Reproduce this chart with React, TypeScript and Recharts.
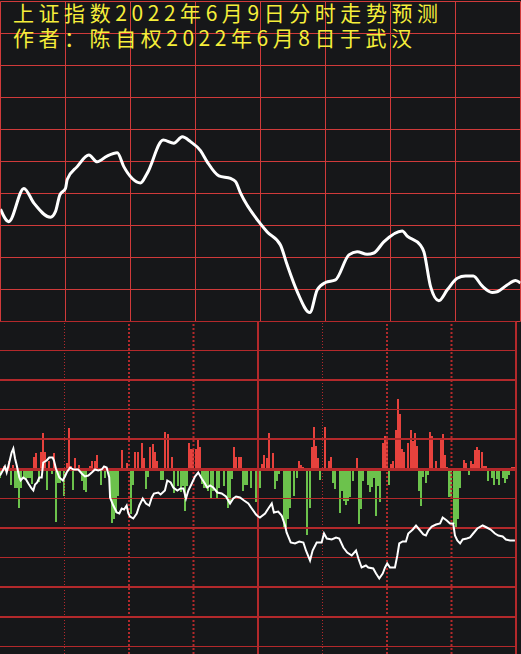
import React from 'react';
import { LineChart, Line, XAxis, YAxis, ReferenceLine, ComposedChart, Bar } from 'recharts';

const titleLine1 = '上证指数2022年6月9日分时走势预测';
const titleLine2 = '作者：陈自权2022年6月8日于武汉';

// top panel: predicted index curve (minute, index value)
const topMinutes = [0, 3.8, 10.8, 15.4, 23.1, 25.4, 27.4, 30, 30.8, 35.4, 40.8, 44.6, 49.2, 53.9, 56.9, 60.8, 64.6, 67.7, 75.1, 80, 83.9, 87.7, 92.3, 95.4, 100.8, 106.2, 108.5, 110.8, 120, 123.1, 129.2, 132.3, 136.9, 142.8, 146.2, 150, 154.6, 160.8, 164.6, 169.2, 172.3, 176.9, 185.4, 187.7, 193.8, 195.4, 198.5, 202.3, 206.2, 210.8, 214.6, 218.2, 222.3, 226.9, 229.2, 233.8, 237.7, 240];
const topValues = [3235.1, 3231.2, 3241.6, 3237.0, 3232.6, 3234.4, 3239.6, 3241.6, 3244.4, 3248.4, 3252.0, 3249.9, 3251.7, 3252.7, 3248.4, 3244.7, 3243.3, 3246.3, 3256.7, 3255.7, 3257.7, 3256.2, 3253.4, 3249.9, 3245.5, 3244.7, 3243.7, 3240.1, 3230.5, 3228.0, 3223.9, 3217.7, 3209.4, 3202.8, 3209.9, 3212.2, 3213.0, 3220.8, 3221.8, 3221.0, 3221.4, 3224.9, 3228.3, 3226.7, 3223.9, 3221.8, 3210.9, 3206.5, 3209.9, 3213.5, 3214.2, 3214.2, 3211.1, 3209.1, 3209.3, 3211.4, 3212.8, 3212.0];
const topGridLevels = [3200, 3210, 3220, 3230, 3240, 3250, 3260, 3270, 3280, 3290, 3300];
const timeTicks = [0, 30, 60, 90, 120, 150, 180, 210, 240];

// bottom panel: minute bars (minute, value)
const barMinutes = [0, 2, 4, 5, 6, 7, 8, 9, 10, 11, 12, 13, 14, 15, 16, 17, 18, 19, 20, 21, 22, 23, 24, 25, 26, 27, 28, 30, 31, 32, 33, 34, 35, 37, 38, 39, 40, 42, 43, 44, 45, 47, 49, 51, 52, 53, 54, 55, 57, 59, 61, 62, 63, 64, 66, 67, 68, 69, 70, 71, 72, 73, 75, 76, 77, 78, 80, 81, 83, 84, 85, 86, 87, 88, 89, 90, 91, 92, 93, 94, 95, 96, 97, 98, 99, 101, 102, 104, 106, 107, 108, 109, 110, 111, 112, 113, 114, 115, 117, 119, 120, 121, 122, 123, 124, 125, 127, 128, 129, 130, 132, 133, 134, 135, 137, 138, 139, 140, 141, 143, 144, 145, 146, 147, 148, 149, 151, 153, 154, 155, 156, 158, 159, 160, 161, 162, 163, 164, 166, 167, 168, 169, 171, 172, 173, 174, 175, 176, 177, 178, 179, 180, 181, 182, 183, 184, 185, 186, 187, 188, 190, 191, 192, 193, 194, 195, 196, 197, 198, 199, 200, 201, 203, 205, 206, 207, 208, 209, 210, 211, 212, 213, 214, 216, 217, 218, 219, 220, 221, 222, 223, 224, 225, 226, 227, 229, 230, 231, 232, 234, 235, 236, 237, 238, 239];
const barValues = [-8, 4, 9, -15, 5, -18, -18, -38, -18, -9, -9, -8, -8, -14, 13, 17, -12, 18, 37, 18, -20, 9, -4, 17, -52, -13, -13, -26, 7, 42, 4, -20, 12, 5, -11, -20, -22, 4, 9, 9, 15, -15, -8, -28, -53, -49, -43, -26, 20, 7, -44, -15, 18, 18, 27, 12, -19, -7, 23, 26, 18, 9, -10, -10, 38, 36, 13, -24, -16, -22, -16, -41, -16, 27, 21, 21, 21, 32, 23, -14, -18, -18, -21, -29, -21, -29, -18, -16, -38, -34, -9, 23, 13, 13, 13, -21, -15, -15, -18, -33, -8, -18, 6, 15, 12, 37, 17, -19, -11, -4, -59, -59, -49, -38, -26, -8, 9, 5, 3, -65, -38, 23, 43, 24, 12, -10, 43, 9, 13, -13, -19, -43, -21, -31, -35, -31, -27, -11, 12, -54, -39, -11, -15, -22, -17, -8, -46, -16, -32, 27, 34, 32, -15, 6, 9, 40, 71, 56, 21, 18, 27, 40, 29, 37, 24, -21, -36, -7, -13, -5, 38, 34, 9, 32, 36, 15, 3, -27, -27, -54, -58, -49, -18, 10, 7, -5, 9, 6, 20, 23, 20, 18, 4, 4, -11, -8, -15, -9, -15, -8, -13, -9, -5, 3, 3];

// bottom panel: thin white line (minute, value)
const flowMinutes = [0, 1.3, 2.3, 3.1, 4.3, 5.4, 6.2, 7.0, 7.8, 9.0, 9.6, 10.8, 12.1, 13.2, 14.7, 15.5, 16.3, 17.3, 18.3, 19.4, 20.1, 21.7, 22.9, 24.5, 25.1, 26.0, 27.6, 29.2, 30.2, 31.0, 32.6, 34.1, 36.4, 38.0, 39.5, 41.1, 42.7, 44.2, 45.7, 47.3, 48.4, 49.6, 50.8, 51.2, 52.7, 54.3, 55.5, 56.6, 57.7, 58.9, 59.7, 60.5, 62.0, 63.6, 64.8, 66.4, 67.9, 69.4, 70.6, 71.6, 73.6, 74.7, 76.7, 77.8, 79.4, 80.6, 82.5, 84.0, 85.3, 86.5, 87.6, 89.2, 90.7, 92.2, 93.8, 95.3, 96.4, 97.7, 99.2, 101.1, 103.1, 105.1, 107.0, 108.5, 109.8, 111.6, 113.5, 115.5, 117.1, 119.1, 120.1, 120.9, 123.3, 124.8, 126.4, 127.4, 129.4, 131.0, 132.6, 133.3, 135.2, 137.2, 139.2, 141.1, 142.3, 144.2, 145.4, 147.3, 149.6, 150.7, 152.0, 154.3, 156.3, 157.8, 159.7, 161.5, 163.6, 165.6, 166.7, 168.2, 170.2, 171.3, 173.6, 174.9, 176.4, 178.0, 179.1, 180.1, 181.4, 183.7, 184.8, 185.7, 187.3, 188.8, 189.9, 192.0, 193.5, 195.0, 196.9, 198.1, 199.2, 200.8, 202.8, 204.7, 205.9, 207.8, 209.3, 210.8, 211.6, 212.7, 214.0, 215.2, 217.1, 218.6, 220.1, 222.0, 224.5, 226.4, 228.2, 230.2, 231.8, 233.8, 235.3, 237.2, 239.5];
const flowValues = [-6, -1, 3, -3, 7, 17, 21, 11, 4, -8, -11, -8, -10, -14, -19, -21, -15, -13, -8, -8, 7, 9, 12, 12, 9, 1, -8, -11, -7, -3, 2, 0, 0, -4, -7, -6, -3, 0, -1, 0, 3, 2, -8, -28, -36, -43, -44, -39, -40, -36, -44, -47, -49, -44, -36, -29, -34, -36, -28, -24, -23, -25, -21, -11, -13, -18, -21, -19, -19, -29, -21, -14, -7, -3, -9, -14, -18, -16, -18, -23, -24, -27, -34, -29, -27, -28, -31, -34, -39, -45, -47, -48, -44, -39, -34, -43, -42, -46, -56, -63, -73, -74, -72, -73, -81, -91, -81, -73, -73, -64, -69, -70, -68, -69, -78, -83, -86, -81, -89, -98, -96, -98, -99, -104, -109, -104, -98, -94, -98, -98, -86, -74, -72, -72, -64, -60, -56, -60, -65, -66, -61, -57, -55, -54, -48, -51, -54, -54, -66, -71, -74, -70, -69, -68, -64, -59, -56, -58, -60, -64, -66, -67, -70, -71, -71];
const bottomGridLevels = [148, 119, 89.5, 60, 30.5, 0, -29, -58.5, -88, -117.5, -147.5, -177];

const BG = '#161719';
const TOP_GRID = '#d03a3a';
const BOT_GRID = '#b3292b';
const RED = '#e6423d';
const GREEN = '#6cc24c';
const YELLOW = '#f5ee3a';

const topData = topMinutes.map((t, i) => ({ t, v: topValues[i] }));
const barData = barMinutes.map((t, i) => ({ t, v: barValues[i] }));
const flowData = flowMinutes.map((t, i) => ({ t, w: flowValues[i] }));

const thinBottom = new Set([0, 1, 3, 6, 8, 11]);

const BOTTOM_DOMAIN: [number, number] = [-184.5, 148];
const bottomMargin = { top: 321.5, right: 5, bottom: 0, left: 0 };

const CrispBar = (props: any) => {
  const { x, y, width, height, payload } = props;
  if (x == null || y == null || !height) return null;
  const top = Math.min(y, y + height);
  const h = Math.abs(height);
  const cx = x + width / 2;
  const x0 = Math.round(cx - 1);
  return (
    <rect
      x={x0}
      y={Math.round(top)}
      width={2}
      height={Math.max(1, Math.round(top + h) - Math.round(top))}
      fill={payload && payload.v >= 0 ? RED : GREEN}
      shapeRendering="crispEdges"
    />
  );
};

export default function App() {
  return (
    <div style={{ position: 'absolute', left: 0, top: 0, width: 521, height: 654, background: BG, overflow: 'hidden' }}>
      <div style={{ position: 'absolute', left: 0, top: 0 }}>
        <LineChart width={521} height={323} data={topData} margin={{ top: 1.5, right: 0.5, bottom: 1.5, left: 0.5 }}>
          <XAxis type="number" dataKey="t" domain={[0, 240]} hide allowDataOverflow />
          <YAxis type="number" domain={[3200, 3300]} hide allowDataOverflow />
          {topGridLevels.map((y) => (
            <ReferenceLine key={'ty' + y} y={y} stroke={TOP_GRID} strokeWidth={1} ifOverflow="visible" />
          ))}
          {timeTicks.map((x) => (
            <ReferenceLine key={'tx' + x} x={x} stroke={TOP_GRID} strokeWidth={1} ifOverflow="visible" />
          ))}
          <Line type="monotone" dataKey="v" stroke="#ffffff" strokeWidth={3} dot={false} isAnimationActive={false} />
        </LineChart>
      </div>
      <div style={{ position: 'absolute', left: 0, top: 0 }}>
        <ComposedChart width={521} height={654} data={barData} margin={bottomMargin}>
          <XAxis type="number" dataKey="t" domain={[0, 240]} hide allowDataOverflow />
          <YAxis type="number" domain={BOTTOM_DOMAIN} hide allowDataOverflow />
          <Bar dataKey="v" barSize={2} isAnimationActive={false} shape={CrispBar} />
          {bottomGridLevels.map((y, i) => (
            <ReferenceLine
              key={'by' + y}
              y={y}
              stroke={BOT_GRID}
              strokeWidth={y === 0 ? 3 : thinBottom.has(i) ? 1 : 2}
              ifOverflow="visible"
            />
          ))}
          {timeTicks.slice(1).map((x) => {
            const solid = x === 120 || x === 240;
            const thin = x === 30 || x === 150;
            return (
              <ReferenceLine
                key={'bx' + x}
                x={x}
                stroke={BOT_GRID}
                strokeWidth={thin ? 1 : 2}
                strokeDasharray={solid ? undefined : thin ? '1 2' : '2 2'}
                ifOverflow="visible"
              />
            );
          })}
        </ComposedChart>
      </div>
      <div style={{ position: 'absolute', left: 0, top: 0 }}>
        <LineChart width={521} height={654} data={flowData} margin={bottomMargin}>
          <XAxis type="number" dataKey="t" domain={[0, 240]} hide allowDataOverflow />
          <YAxis type="number" domain={BOTTOM_DOMAIN} hide allowDataOverflow />
          <Line type="linear" dataKey="w" stroke="#ffffff" strokeWidth={2} dot={false} isAnimationActive={false} />
        </LineChart>
      </div>
      <svg width={521} height={60} style={{ position: 'absolute', left: 0, top: 0 }}>
        <text x={13} y={21} fill={YELLOW} fontSize={21} fontFamily="'Noto Sans CJK SC', sans-serif" textLength={425} lengthAdjust="spacing">
          {titleLine1}
        </text>
        <text x={13} y={46} fill={YELLOW} fontSize={21} fontFamily="'Noto Sans CJK SC', sans-serif" textLength={399} lengthAdjust="spacing">
          {titleLine2}
        </text>
      </svg>
    </div>
  );
}
